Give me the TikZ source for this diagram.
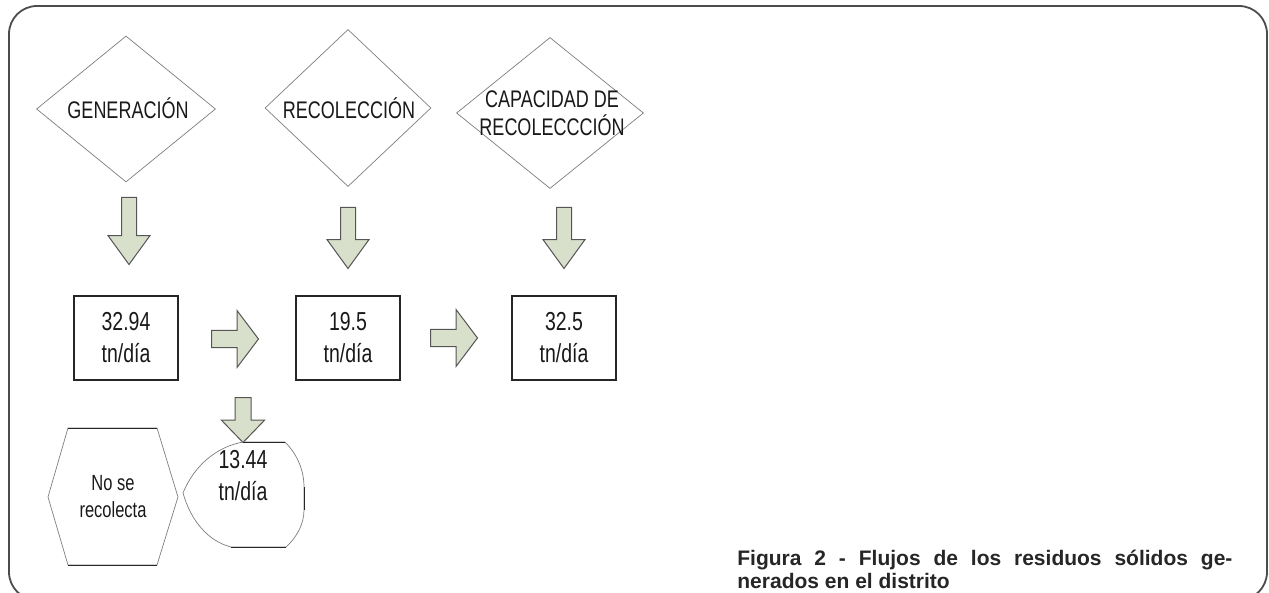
\documentclass[tikz,border=0pt]{standalone}
\usepackage{fontspec}
\setmainfont{Liberation Sans}
\newfontfamily\narrowsf[FakeStretch=0.75]{Liberation Sans}
\usetikzlibrary{positioning,shapes.geometric,shapes.arrows}
\definecolor{arrowfill}{RGB}{216,224,204}
\definecolor{arrowline}{RGB}{85,85,85}
\definecolor{shapeline}{RGB}{125,125,125}

\begin{document}
\begin{tikzpicture}[x=0.5pt,y=-0.5pt,
  lbl/.style={font=\narrowsf\fontsize{12}{14}\selectfont, align=center, text=black!90},
  val/.style={font=\narrowsf\fontsize{13}{16}\selectfont, align=center, text=black!90},
  smallval/.style={font=\narrowsf\fontsize{11}{13.5}\selectfont, align=center, text=black!90},
  dia/.style={diamond, draw=shapeline, line width=0.35pt, inner sep=0pt},
  box/.style={rectangle, draw=black!85, line width=0.6pt, minimum width=52pt, minimum height=42pt, inner sep=0pt},
  blk/.style={single arrow, draw=arrowline, fill=arrowfill, line width=0.5pt, inner xsep=0pt, minimum width=0pt, anchor=tail},
  downblk/.style={blk, rotate=-90, minimum height=30.5pt, inner ysep=3.5pt, single arrow head extend=6.75pt, single arrow tip angle=72},
  rightblk/.style={blk, minimum height=23.5pt, inner ysep=4pt, single arrow head extend=10pt, single arrow tip angle=106},
  caption/.style={anchor=base west, inner sep=0pt, font=\bfseries\fontsize{10.5}{12}\selectfont, text=black!85}]

\useasboundingbox (0,0) rectangle (1269,593);
\draw[line width=0.9pt, draw=black!70, rounded corners=14pt] (9,6) rectangle (1267,600);

% decisiones
\node[dia, minimum width=89.5pt, minimum height=73pt] (gen) at (126,109) {};
\node[dia, minimum width=83pt, minimum height=78.5pt] (rec) at (348,108) {};
\node[dia, minimum width=93.5pt, minimum height=75.5pt] (cap) at (550,113) {};
\node[lbl] (gentxt) at (128,108) {GENERACIÓN};
\node[lbl] (rectxt) at (349,108) {RECOLECCIÓN};
\node[lbl] (captxt) at (552,113) {CAPACIDAD DE\\RECOLECCCIÓN};

% flechas
\node[downblk, minimum height=33.5pt] (dgen) at (129,197) {};
\node[downblk] (drec) at (348,207) {};
\node[downblk] (dcap) at (564,207) {};
\node[rightblk] (r1) at (211,339) {};
\node[rightblk] (r2) at (430,338) {};
\node[downblk, minimum height=22.5pt, inner ysep=3.75pt, single arrow head extend=6.75pt, single arrow tip angle=88] (dno) at (243,397) {};

% valores
\node[box, val] (vgen) at (126,338) {32.94\\tn/día};
\node[box, val] (vrec) at (348,338) {19.5\\tn/día};
\node[box, val] (vcap) at (564,338) {32.5\\tn/día};

% no recolectado
\draw[shapeline, line width=0.35pt] (68,428) -- (157,428) -- (178,497) -- (157,565) -- (68,565) -- (48,497) -- cycle;
\draw[black!85, line width=0.5pt] (68,428) -- (157,428) (68,565) -- (157,565);
\node[smallval] (norec) at (113,497) {No se\\recolecta};

\draw[shapeline, line width=0.35pt] (243,442) -- (285,442) .. controls (297,454) and (304,470) .. (304,487) -- (304,510)
  .. controls (304,524) and (297,537) .. (286,547) -- (231,547) .. controls (208,541) and (191,521) .. (183,493)
  .. controls (194,466) and (216,447) .. (243,442);
\draw[black!85, line width=0.5pt] (243,442) -- (285,442) (231,547) -- (286,547) (304,487) -- (304,510);
\node[val] (rest) at (243,476) {13.44\\tn/día};

\node[caption] (cap1) at (737,565) {\makebox[247.5pt][s]{Figura 2 - Flujos de los residuos sólidos ge-}};
\node[caption] (cap2) at (737,588) {nerados en el distrito};

\end{tikzpicture}
\end{document}
